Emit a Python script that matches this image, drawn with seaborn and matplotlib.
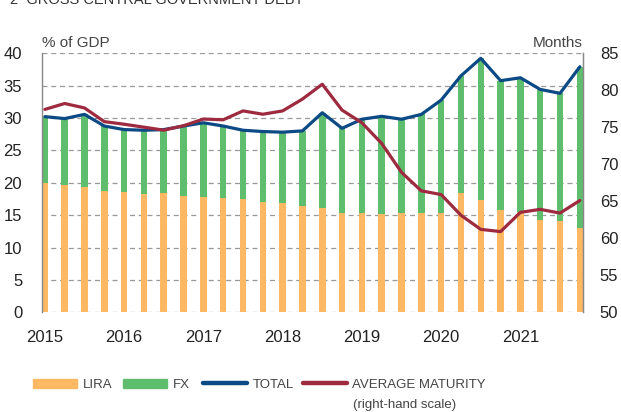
import numpy as np
import pandas as pd
import seaborn as sns
import matplotlib.pyplot as plt
from matplotlib.lines import Line2D
from matplotlib.patches import Patch

# quarterly data, 2015Q1 .. 2021Q4
quarters = [f"{y}Q{q}" for y in range(2015, 2022) for q in range(1, 5)]
lira = [20.0, 19.7, 19.4, 18.7, 18.5, 18.25, 18.35, 17.9, 17.85, 17.6, 17.55, 17.05, 16.85, 16.4,
        16.1, 15.4, 15.3, 15.2, 15.3, 15.4, 15.3, 18.45, 17.3, 15.8, 15.5, 14.25, 14.15, 12.95]
total = [30.2, 29.9, 30.55, 28.75, 28.2, 28.1, 28.2, 28.75, 29.25, 28.75, 28.1, 27.9, 27.8, 28.0,
         30.8, 28.4, 29.8, 30.25, 29.8, 30.55, 32.75, 36.5, 39.2, 35.75, 36.2, 34.4, 33.8, 37.9]
maturity = [77.4, 78.2, 77.6, 75.75, 75.4, 75.0, 74.6, 75.2, 76.1, 76.0, 77.2, 76.75, 77.2, 78.8,
            80.8, 77.3, 75.6, 72.8, 68.9, 66.4, 65.9, 63.1, 61.2, 60.9, 63.5, 63.9, 63.4, 65.1]
year_labels = ['2015', '2016', '2017', '2018', '2019', '2020', '2021']

df = pd.DataFrame({'quarter': quarters, 'LIRA': lira, 'TOTAL': total, 'MATURITY': maturity})
df['FX'] = df['TOTAL'] - df['LIRA']
df['pos'] = np.arange(len(df))

c_lira = '#FDB863'
c_fx = '#5FBE6E'
c_total = '#0B4A84'
c_mat = '#9E2A3F'
txt = '#222222'

sns.set_style('white')
plt.rcParams['font.family'] = ['Liberation Sans', 'DejaVu Sans']

fig = plt.figure(figsize=(6.21, 4.12), dpi=100)
ax = fig.add_axes([0.067, 0.242, 0.872, 0.629])

w = 0.33
# stacked bars: full total in green, lira drawn over the bottom part
sns.barplot(data=df, x='quarter', y='TOTAL', color=c_fx, width=w, saturation=1,
            linewidth=0, ax=ax)
sns.barplot(data=df, x='quarter', y='LIRA', color=c_lira, width=w, saturation=1,
            linewidth=0, ax=ax)
sns.lineplot(data=df, x='pos', y='TOTAL', color=c_total, lw=2.3, ax=ax)

ax.set_xlim(-w / 2, len(df) - 1 + w / 2)
ax.set_ylim(0, 40)
ax.set_yticks(np.arange(0, 41, 5))
ax.yaxis.grid(True, ls=(0, (4, 3)), color='#999999', lw=0.9)
ax.set_axisbelow(True)
for s in ['top', 'bottom']:
    ax.spines[s].set_visible(False)
for s in ['left', 'right']:
    ax.spines[s].set_color('#888888')
    ax.spines[s].set_linewidth(1.0)
ax.set_xlabel('')
ax.set_ylabel('')

year_pos = np.arange(0, len(df), 4)
ax.set_xticks(year_pos)
ax.set_xticklabels(year_labels)
ax.set_xticks(year_pos[1:] - w / 2, minor=True)
ax.tick_params(axis='x', which='major', length=0, pad=13, labelsize=12, labelcolor=txt)
ax.tick_params(axis='x', which='minor', direction='in', length=4, width=1, color='#888888')
ax.tick_params(axis='y', length=0, pad=14, labelsize=12, labelcolor=txt)

ax2 = ax.twinx()
sns.lineplot(data=df, x='pos', y='MATURITY', color=c_mat, lw=2.3, ax=ax2)
ax2.set_ylim(50, 85)
ax2.set_yticks(np.arange(50, 86, 5))
ax2.set_ylabel('')
ax2.grid(False)
for s in ['top', 'bottom', 'left']:
    ax2.spines[s].set_visible(False)
ax2.spines['right'].set_color('#888888')
ax2.tick_params(axis='y', length=0, pad=12, labelsize=12, labelcolor=txt)
ax2.set_xlim(-w / 2, len(df) - 1 + w / 2)

ax.text(0, 1.012, '% of GDP', transform=ax.transAxes, ha='left', va='bottom', fontsize=11, color='#444444')
ax.text(1, 1.012, 'Months', transform=ax.transAxes, ha='right', va='bottom', fontsize=11, color='#444444')

# title sits partly above the top edge, as in the source crop
fig.text(0.016, 0.99, '2  GROSS CENTRAL GOVERNMENT DEBT', ha='left', va='baseline',
         fontsize=10.5, color='#333333')

# legend: one entry per legend so each handle sits where the original has it
handles = [Patch(color=c_lira), Patch(color=c_fx),
           Line2D([], [], color=c_total, lw=3.2), Line2D([], [], color=c_mat, lw=3.2)]
labels = ['LIRA', 'FX', 'TOTAL', 'AVERAGE MATURITY']
x_left = [33, 123, 203, 303]
for h, lab, xl in zip(handles, labels, x_left):
    leg = fig.legend([h], [lab], loc='center left', bbox_to_anchor=(xl / 621, 0.066),
                     frameon=False, handlelength=3.3, handleheight=0.7, handletextpad=0.45,
                     borderpad=0, borderaxespad=0, fontsize=9.5)
    for t in leg.get_texts():
        t.set_color('#444444')
fig.text(353 / 621, 0.01, '(right-hand scale)', ha='left', va='baseline', fontsize=9.5,
         color='#444444')

fig.savefig('out.png', dpi=100)
